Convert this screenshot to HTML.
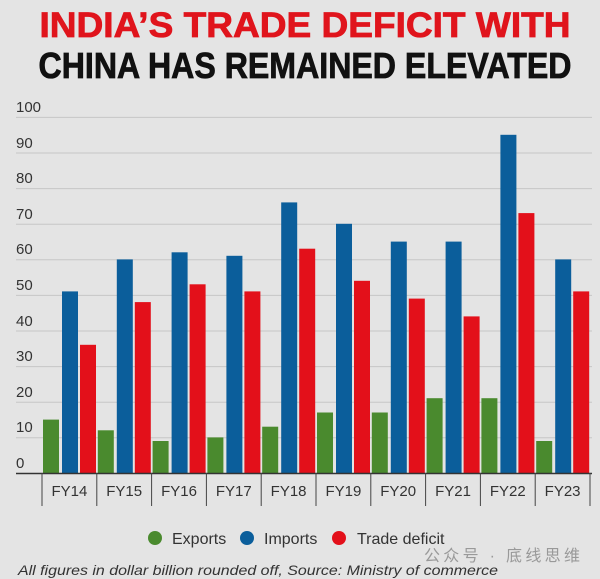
<!DOCTYPE html>
<html><head><meta charset="utf-8"><style>
html,body{margin:0;padding:0;background:#e4e4e4;}
svg{display:block;}
</style></head><body>
<svg width="600" height="579" xmlns="http://www.w3.org/2000/svg" font-family="Liberation Sans, sans-serif">
<rect width="600" height="579" fill="#e4e4e4"/>
<text x="305" y="37" text-anchor="middle" font-size="35" font-weight="bold" fill="#e0141c" stroke="#e0141c" stroke-width="0.8" textLength="531" lengthAdjust="spacingAndGlyphs">INDIA’S TRADE DEFICIT WITH</text>
<text x="305" y="78" text-anchor="middle" font-size="36" font-weight="bold" fill="#111" stroke="#111" stroke-width="0.8" textLength="533" lengthAdjust="spacingAndGlyphs">CHINA HAS REMAINED ELEVATED</text>
<g stroke="#c6c6c6" stroke-width="1">
<line x1="16" x2="592" y1="117.4" y2="117.4"/><line x1="16" x2="592" y1="153" y2="153"/><line x1="16" x2="592" y1="188.6" y2="188.6"/><line x1="16" x2="592" y1="224.2" y2="224.2"/><line x1="16" x2="592" y1="259.8" y2="259.8"/><line x1="16" x2="592" y1="295.4" y2="295.4"/><line x1="16" x2="592" y1="331" y2="331"/><line x1="16" x2="592" y1="366.6" y2="366.6"/><line x1="16" x2="592" y1="402.2" y2="402.2"/><line x1="16" x2="592" y1="437.8" y2="437.8"/>
</g>
<g font-size="15" fill="#333">
<text x="16" y="112">100</text><text x="16" y="148">90</text><text x="16" y="183">80</text><text x="16" y="219">70</text><text x="16" y="254">60</text><text x="16" y="290">50</text><text x="16" y="326">40</text><text x="16" y="361">30</text><text x="16" y="397">20</text><text x="16" y="432">10</text><text x="16" y="468">0</text>
</g>
<g fill="#4a8a2e">
<rect x="43" y="419.6" width="16" height="53.4"/><rect x="97.8" y="430.3" width="16" height="42.7"/><rect x="152.6" y="441" width="16" height="32"/><rect x="207.4" y="437.4" width="16" height="35.6"/><rect x="262.2" y="426.7" width="16" height="46.3"/><rect x="317" y="412.5" width="16" height="60.5"/><rect x="371.8" y="412.5" width="16" height="60.5"/><rect x="426.6" y="398.2" width="16" height="74.8"/><rect x="481.4" y="398.2" width="16" height="74.8"/><rect x="536.2" y="441" width="16" height="32"/>
</g>
<g fill="#0b5e9b">
<rect x="62" y="291.4" width="16" height="181.6"/><rect x="116.8" y="259.4" width="16" height="213.6"/><rect x="171.6" y="252.3" width="16" height="220.7"/><rect x="226.4" y="255.8" width="16" height="217.2"/><rect x="281.2" y="202.4" width="16" height="270.6"/><rect x="336" y="223.8" width="16" height="249.2"/><rect x="390.8" y="241.6" width="16" height="231.4"/><rect x="445.6" y="241.6" width="16" height="231.4"/><rect x="500.4" y="134.8" width="16" height="338.2"/><rect x="555.2" y="259.4" width="16" height="213.6"/>
</g>
<g fill="#e3101a">
<rect x="80" y="344.8" width="16" height="128.2"/><rect x="134.8" y="302.1" width="16" height="170.9"/><rect x="189.6" y="284.3" width="16" height="188.7"/><rect x="244.4" y="291.4" width="16" height="181.6"/><rect x="299.2" y="248.7" width="16" height="224.3"/><rect x="354" y="280.8" width="16" height="192.2"/><rect x="408.8" y="298.6" width="16" height="174.4"/><rect x="463.6" y="316.4" width="16" height="156.6"/><rect x="518.4" y="213.1" width="16" height="259.9"/><rect x="573.2" y="291.4" width="16" height="181.6"/>
</g>
<line x1="16" x2="592" y1="473.5" y2="473.5" stroke="#333" stroke-width="1.5"/>
<g stroke="#444" stroke-width="1">
<line x1="42" x2="42" y1="473" y2="506"/><line x1="96.8" x2="96.8" y1="473" y2="506"/><line x1="151.6" x2="151.6" y1="473" y2="506"/><line x1="206.4" x2="206.4" y1="473" y2="506"/><line x1="261.2" x2="261.2" y1="473" y2="506"/><line x1="316" x2="316" y1="473" y2="506"/><line x1="370.8" x2="370.8" y1="473" y2="506"/><line x1="425.6" x2="425.6" y1="473" y2="506"/><line x1="480.4" x2="480.4" y1="473" y2="506"/><line x1="535.2" x2="535.2" y1="473" y2="506"/><line x1="590" x2="590" y1="473" y2="506"/>
</g>
<g font-size="15" fill="#333" text-anchor="middle">
<text x="69.4" y="496">FY14</text><text x="124.2" y="496">FY15</text><text x="179" y="496">FY16</text><text x="233.8" y="496">FY17</text><text x="288.6" y="496">FY18</text><text x="343.4" y="496">FY19</text><text x="398.2" y="496">FY20</text><text x="453" y="496">FY21</text><text x="507.8" y="496">FY22</text><text x="562.6" y="496">FY23</text>
</g>
<circle cx="155" cy="538" r="7" fill="#4a8a2e"/>
<text x="172" y="544" font-size="16" fill="#333">Exports</text>
<circle cx="247" cy="538" r="7" fill="#0b5e9b"/>
<text x="264" y="544" font-size="16" fill="#333">Imports</text>
<circle cx="339" cy="538" r="7" fill="#e3101a"/>
<text x="357" y="544" font-size="16" fill="#333">Trade deficit</text>
<text x="424" y="561" font-size="16" fill="#999" font-family="Liberation Sans, Noto Sans CJK SC, sans-serif" textLength="156">公众号 · 底线思维</text>
<text x="18" y="575" font-size="14" font-style="italic" fill="#333" textLength="480" lengthAdjust="spacingAndGlyphs">All figures in dollar billion rounded off, Source: Ministry of  commerce</text>
</svg>
</body></html>
